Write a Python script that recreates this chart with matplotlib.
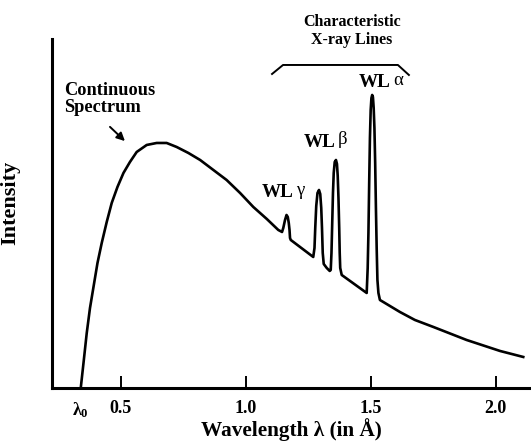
import numpy as np
import matplotlib
matplotlib.use("Agg")
import matplotlib.pyplot as plt

plt.rcParams["font.family"] = ["Liberation Serif", "DejaVu Serif"]
plt.rcParams["font.weight"] = "bold"
plt.rcParams["mathtext.fontset"] = "custom"
plt.rcParams["mathtext.rm"] = "Liberation Serif:bold"
plt.rcParams["mathtext.it"] = "Liberation Serif:bold"

# spectrum: wavelength (Angstrom) vs intensity (arb. units)
wavelength = [0.339, 0.350, 0.363, 0.376, 0.390, 0.406, 0.423, 0.443, 0.463, 0.486,
              0.510, 0.536, 0.563, 0.603, 0.643, 0.683, 0.723, 0.770, 0.817, 0.870,
              0.923, 0.977, 1.030, 1.084, 1.130, 1.145,
              # WL gamma
              1.150, 1.157, 1.163, 1.168, 1.172, 1.175, 1.177, 1.180,
              # WL beta (two lines)
              1.270, 1.275, 1.278, 1.282, 1.287, 1.293, 1.298, 1.302, 1.305, 1.308,
              1.312, 1.324, 1.336, 1.340, 1.343, 1.346, 1.349, 1.352, 1.356, 1.361,
              1.365, 1.368, 1.371, 1.374, 1.376, 1.378, 1.384,
              # WL alpha
              1.484, 1.488, 1.491, 1.494, 1.497, 1.500, 1.503, 1.506, 1.509, 1.512,
              1.515, 1.518, 1.521, 1.524, 1.527, 1.531, 1.537,
              1.617, 1.677, 1.751, 1.884, 2.018, 2.111]
intensity = [0, 25, 55, 80, 101, 125, 145, 166, 185, 201,
             215, 226, 236, 243, 245, 245, 241, 235, 228, 218,
             208, 195, 181, 169, 158, 156,
             160, 168, 173, 171, 165, 158, 150, 148,
             131, 140, 160, 182, 195, 198, 194, 180, 160, 135,
             124, 120, 117, 118, 135, 165, 195, 215, 226, 228,
             224, 212, 190, 160, 135, 120, 113,
             95, 120, 155, 205, 250, 278, 290, 293, 291, 280,
             260, 225, 180, 140, 108, 95, 88,
             76, 68, 61, 48, 37, 31]

tick_pos = [0.339, 0.5, 1.0, 1.5, 2.0]
tick_labels = [r"$\lambda_0$", "0.5", "1.0", "1.5", "2.0"]

fig = plt.figure(figsize=(5.31, 4.48), dpi=100)
ax = fig.add_axes([0.098, 0.134, 0.902, 0.779])

ax.plot(wavelength, intensity, color="black", lw=1.9, solid_joinstyle="round")

ax.set_xlim(0.224, 2.142)
ax.set_ylim(0, 349)

ax.spines["top"].set_visible(False)
ax.spines["right"].set_visible(False)
ax.spines["left"].set_linewidth(2.2)
ax.spines["bottom"].set_linewidth(2.2)

ax.set_yticks([])
ax.set_xticks(tick_pos)
ax.set_xticklabels(tick_labels, fontsize=13, fontweight="bold")
ax.tick_params(axis="x", direction="in", length=9, width=1.4, pad=9)
ax.xaxis.get_major_ticks()[0].tick1line.set_visible(False)

ax.set_xlabel("Wavelength λ (in Å)", fontsize=15.3, fontweight="bold")
ax.xaxis.set_label_coords(0.5, -0.085)
ax.set_ylabel("Intensity", fontsize=16, fontweight="bold")
ax.yaxis.set_label_coords(-0.067, 0.53)

# bracket over the characteristic lines
ax.plot([1.105, 1.149, 1.609, 1.653], [314, 323, 323, 313], color="black", lw=1.4,
        clip_on=False)
ax.text(1.425, 357, "Characteristic\nX-ray Lines", ha="center", va="center",
        fontsize=11.5, fontweight="bold", linespacing=1.1, clip_on=False)

ax.text(0.272, 289, "Continuous\nSpectrum", ha="left", va="center",
        fontsize=13.2, fontweight="bold", linespacing=1.05)
ax.annotate("", xy=(0.524, 245), xytext=(0.448, 263),
            arrowprops=dict(arrowstyle="-|>", color="black", lw=1.4, mutation_scale=12))

# line labels
ax.text(1.453, 305, "WL", ha="left", va="center", fontsize=13.8, fontweight="bold")
ax.text(1.590, 307, "α", ha="left", va="center", fontsize=13.5, fontweight="normal")
ax.text(1.233, 245, "WL", ha="left", va="center", fontsize=13.8, fontweight="bold")
ax.text(1.370, 248, "β", ha="left", va="center", fontsize=13.5, fontweight="normal")
ax.text(1.063, 195, "WL", ha="left", va="center", fontsize=13.8, fontweight="bold")
ax.text(1.200, 197, "γ", ha="left", va="center", fontsize=13.5, fontweight="normal")

fig.savefig("out.png", dpi=100)
